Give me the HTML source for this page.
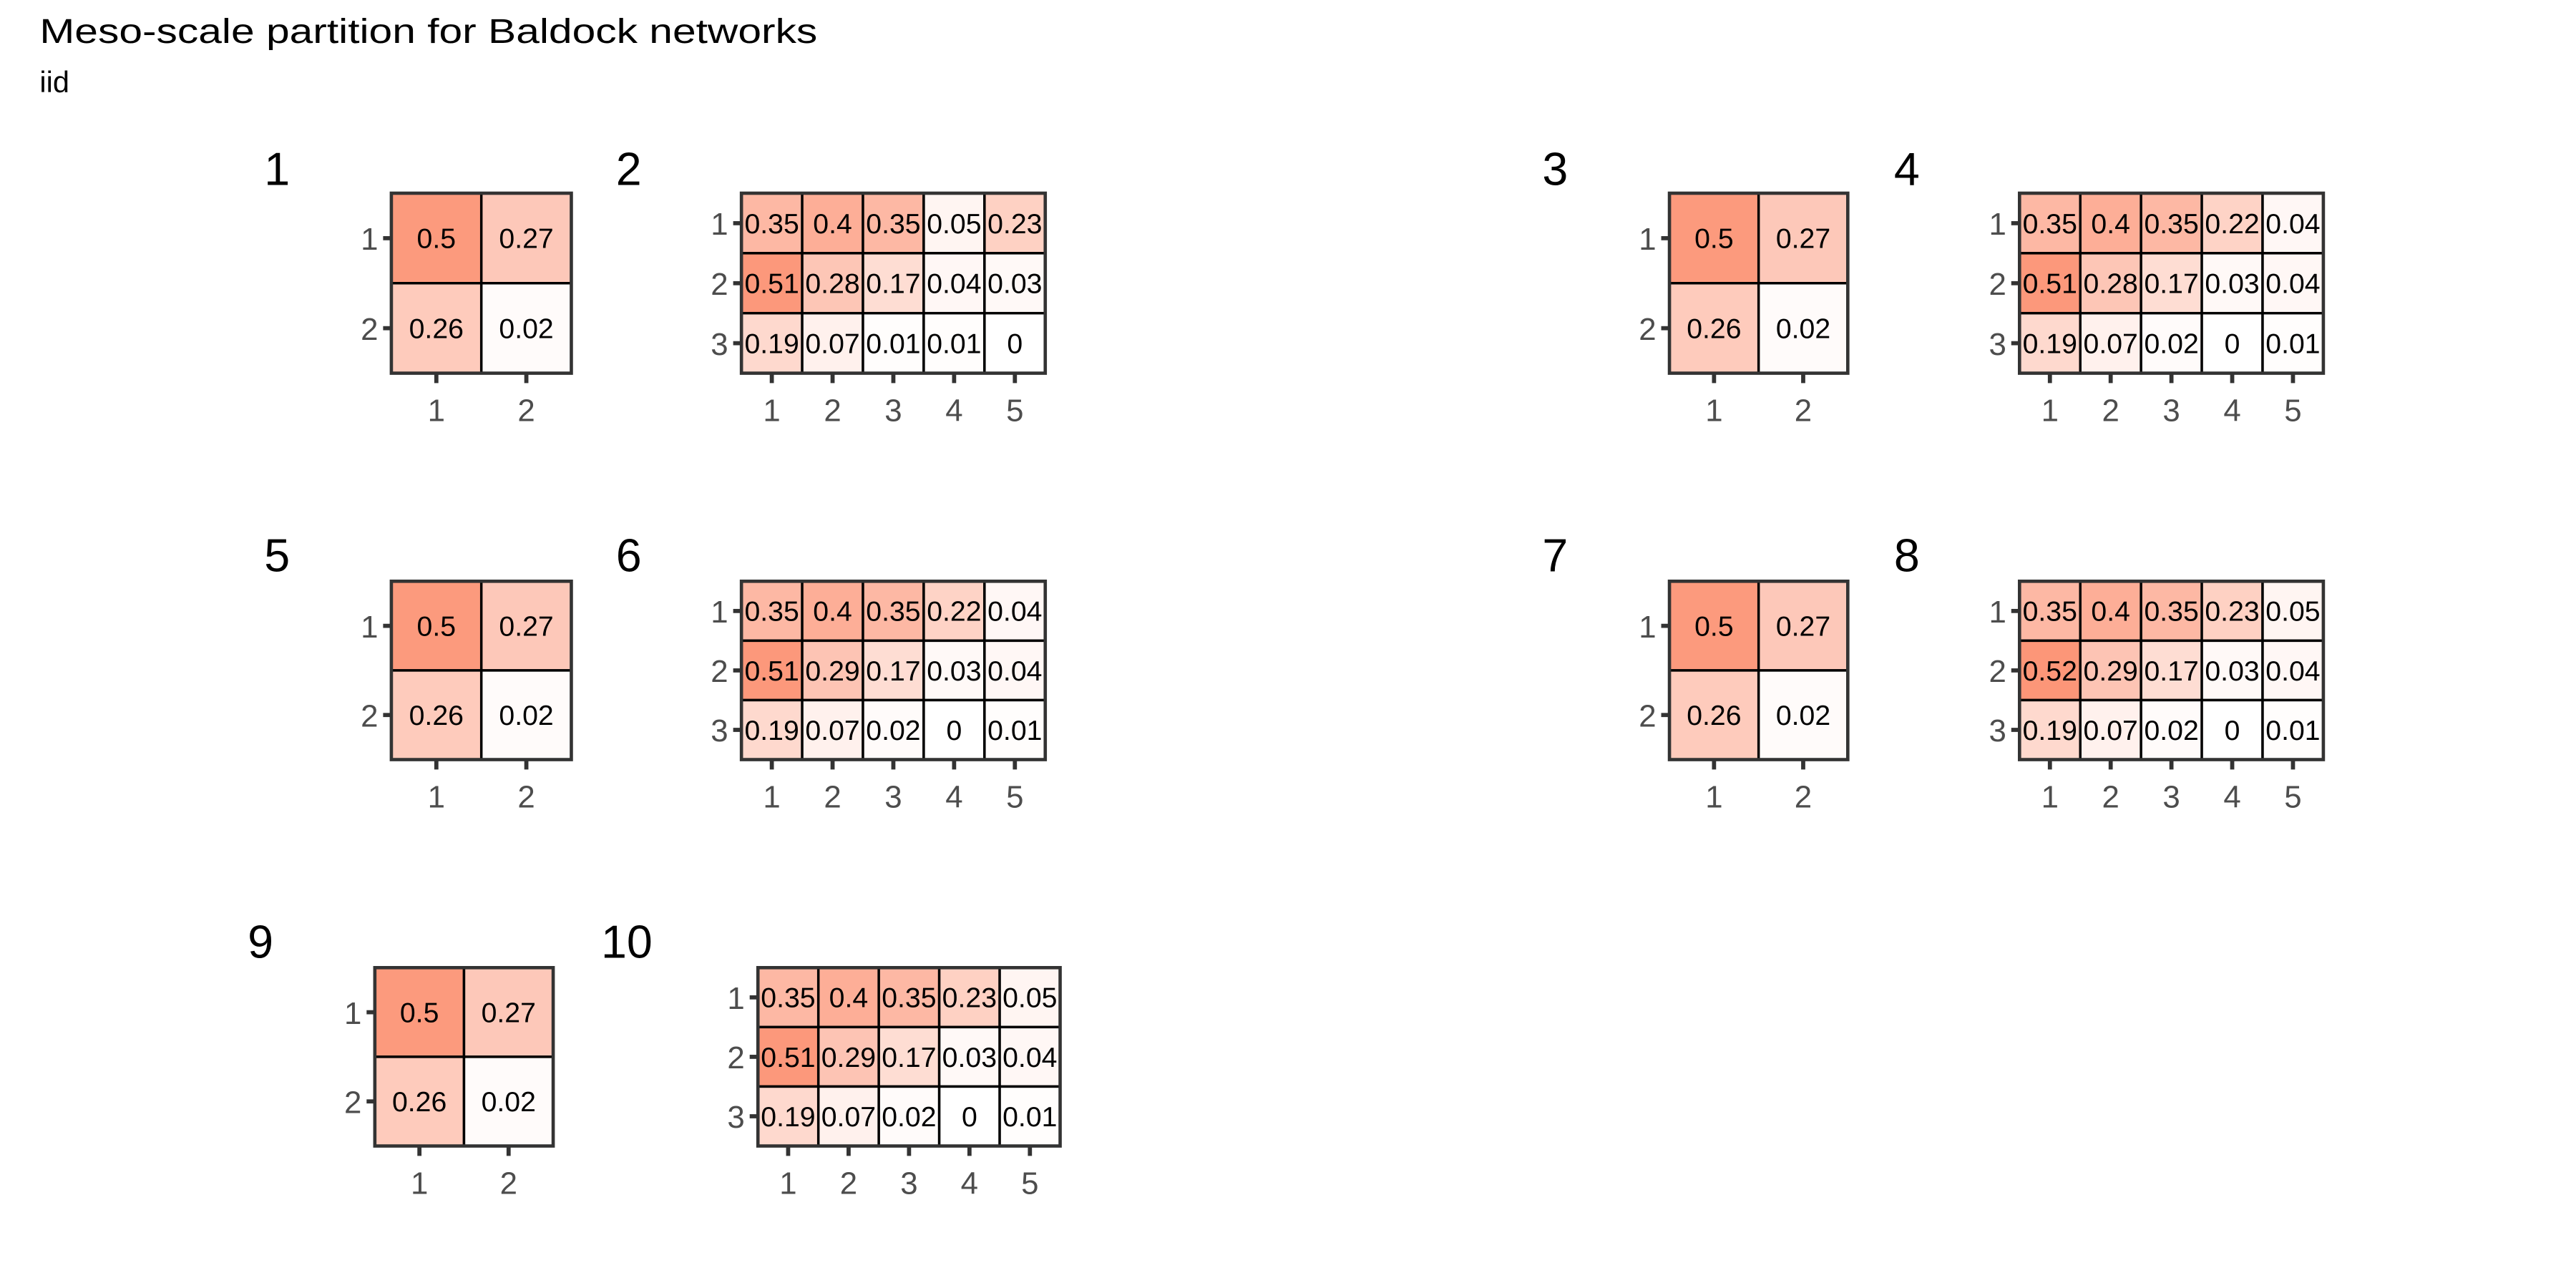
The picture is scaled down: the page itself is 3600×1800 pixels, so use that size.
<!DOCTYPE html>
<html><head><meta charset="utf-8"><style>
html,body{margin:0;padding:0;background:#fff;}
svg{display:block;font-family:"Liberation Sans","DejaVu Sans",sans-serif;}
</style></head><body>
<svg id="chart" width="3600" height="1800" viewBox="0 0 1560 780" xmlns="http://www.w3.org/2000/svg">
<rect width="1560" height="780" fill="#fff"/>
<text x="24" y="26" font-size="21" textLength="471" lengthAdjust="spacingAndGlyphs" fill="#000">Meso-scale partition for Baldock networks</text>
<text x="24" y="56" font-size="18" fill="#000">iid</text>
<g id="panels"></g>
</svg>
<script>
const panelLabels = ["1","2","3","4","5","6","7","8","9","10"];
const small = [[0.5,0.27],[0.26,0.02]];
const p2 = [[0.35,0.4,0.35,0.05,0.23],[0.51,0.28,0.17,0.04,0.03],[0.19,0.07,0.01,0.01,0]];
const p4 = [[0.35,0.4,0.35,0.22,0.04],[0.51,0.28,0.17,0.03,0.04],[0.19,0.07,0.02,0,0.01]];
const p6 = [[0.35,0.4,0.35,0.22,0.04],[0.51,0.29,0.17,0.03,0.04],[0.19,0.07,0.02,0,0.01]];
const p8 = [[0.35,0.4,0.35,0.23,0.05],[0.52,0.29,0.17,0.03,0.04],[0.19,0.07,0.02,0,0.01]];
const p10 = [[0.35,0.4,0.35,0.23,0.05],[0.51,0.29,0.17,0.03,0.04],[0.19,0.07,0.02,0,0.01]];
const panelData = [small,p2,small,p4,small,p6,small,p8,small,p10];

const NS = "http://www.w3.org/2000/svg";
const root = document.getElementById("panels");
const layout = [
 {lx:160,ly:112,x:237,y:117,w:109,h:109},
 {lx:373,ly:112,x:449,y:117,w:184,h:109},
 {lx:934,ly:112,x:1011,y:117,w:108,h:109},
 {lx:1147,ly:112,x:1223,y:117,w:184,h:109},
 {lx:160,ly:346,x:237,y:352,w:109,h:108},
 {lx:373,ly:346,x:449,y:352,w:184,h:108},
 {lx:934,ly:346,x:1011,y:352,w:108,h:108},
 {lx:1147,ly:346,x:1223,y:352,w:184,h:108},
 {lx:150,ly:580,x:227,y:586,w:108,h:108},
 {lx:364,ly:580,x:459,y:586,w:183,h:108}
];
const maxV = 0.52;
function fillColor(v){
  const t = Math.max(0,Math.min(1,v/maxV));
  const lo=[255,255,255], hi=[252,150,120];
  const c = lo.map((l,i)=>Math.round(l+(hi[i]-l)*t));
  return `rgb(${c[0]},${c[1]},${c[2]})`;
}
function mk(tag, attrs, parent){
  const e = document.createElementNS(NS, tag);
  for (const k in attrs) e.setAttribute(k, attrs[k]);
  parent.appendChild(e);
  return e;
}
panelData.forEach((data, p) => {
  const L = layout[p];
  const g = mk("g", {}, root);
  
  
  const lab = mk("text", {x:L.lx, y:L.ly, "font-size":28, fill:"#000"}, g);
  
  
  lab.textContent = panelLabels[p];
  const nr = data.length, nc = data[0].length;
  const cw = L.w/nc, ch = L.h/nr;
  const xs = c => L.x + c*cw;
  const ys = r => L.y + r*ch;
  for (let r=0;r<nr;r++){
    for (let c=0;c<nc;c++){
      const v = data[r][c];
      const cell = mk("rect", {x:xs(c), y:ys(r), width:cw, height:ch, fill:fillColor(v), stroke:"#000", "stroke-width":1.5}, g);
      
      
      const t = mk("text", {x:xs(c)+cw/2, y:ys(r)+ch/2+6, "font-size":17, "text-anchor":"middle", fill:"#000"}, g);
      
      
      t.textContent = String(v);
    }
  }
  const border = mk("rect", {x:L.x, y:L.y, width:L.w, height:L.h, fill:"none", stroke:"#333", "stroke-width":2}, g);
  
  
  for (let r=0;r<nr;r++){
    const yc = ys(r)+ch/2;
    const tk = mk("line", {x1:L.x-5, x2:L.x, y1:yc, y2:yc, stroke:"#333", "stroke-width":2.5}, g);
    
    
    const tl = mk("text", {x:L.x-8, y:yc+7, "font-size":19, "text-anchor":"end", fill:"#4d4d4d"}, g);
    
    
    tl.textContent = String(r+1);
  }
  for (let c=0;c<nc;c++){
    const xc = xs(c)+cw/2;
    const tk = mk("line", {x1:xc, x2:xc, y1:L.y+L.h, y2:L.y+L.h+6, stroke:"#333", "stroke-width":2.5}, g);
    
    
    const tl = mk("text", {x:xc, y:L.y+L.h+29, "font-size":19, "text-anchor":"middle", fill:"#4d4d4d"}, g);
    
    
    tl.textContent = String(c+1);
  }
});
</script>
</body></html>
